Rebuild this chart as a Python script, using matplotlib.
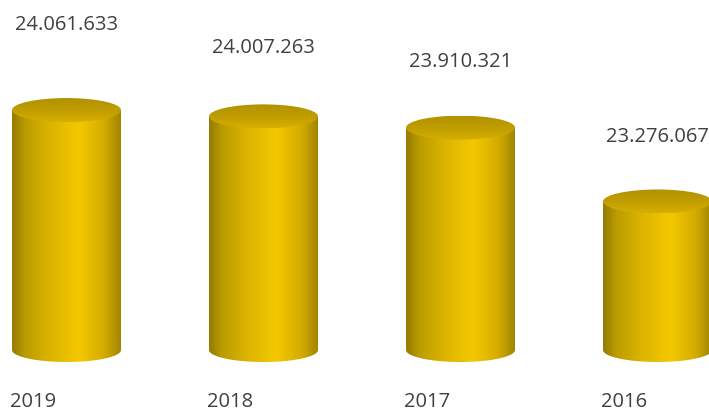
import numpy as np
import matplotlib
matplotlib.use("Agg")
import matplotlib.pyplot as plt
from matplotlib.path import Path
from matplotlib.patches import PathPatch, Ellipse
from matplotlib.colors import LinearSegmentedColormap
from matplotlib.transforms import blended_transform_factory

plt.rcParams['font.family'] = ['Open Sans', 'DejaVu Sans']

years = ['2019', '2018', '2017', '2016']
values = [24061633, 24007263, 23910321, 23276067]
value_labels = ['24.061.633', '24.007.263', '23.910.321', '23.276.067']

base = 22000000
label_offset_px = [85, 68, 66, 64]

fig = plt.figure(figsize=(7.09, 4.11), dpi=100)
ax = fig.add_axes([0, 0, 1, 1])
ax.set_xlim(-0.3376, 3.2614)
ax.set_ylim(21476000, 25007000)
ax.axis('off')

# horizontal shading for the cylinder body, vertical for the lid
body_cmap = LinearSegmentedColormap.from_list('body', [
    (0.0, '#947a00'), (0.12, '#bb9c00'), (0.35, '#dcb400'),
    (0.62, '#f4c800'), (0.85, '#d4ac00'), (1.0, '#a08400')])
lid_cmap = LinearSegmentedColormap.from_list('lid', [
    (0.0, '#b09200'), (0.6, '#c4a000'), (1.0, '#d6b000')])
grad = np.linspace(0, 1, 256).reshape(1, -1)
lid_grad = np.linspace(0, 1, 64).reshape(-1, 1)

rx = 0.2766          # half width in category units
ry = 103000          # half height of the ellipses in value units

for i, v in enumerate(values):
    x = i
    # body: rectangle from base to value, rounded by the lower half ellipse
    t = np.linspace(np.pi, 2 * np.pi, 60)
    bx = x + rx * np.cos(t)
    by = base + ry * np.sin(t)
    verts = list(zip(bx, by)) + [(x + rx, v), (x - rx, v), (bx[0], by[0])]
    codes = [Path.MOVETO] + [Path.LINETO] * (len(verts) - 2) + [Path.CLOSEPOLY]
    clip = PathPatch(Path(verts, codes), facecolor='none', edgecolor='none')
    ax.add_patch(clip)
    im = ax.imshow(grad, cmap=body_cmap, aspect='auto', interpolation='bicubic',
                   extent=[x - rx, x + rx, base - ry, v], zorder=2)
    im.set_clip_path(clip)

    # lid
    lid = Ellipse((x, v), 2 * rx, 2 * ry, facecolor='none', edgecolor='none')
    ax.add_patch(lid)
    im2 = ax.imshow(lid_grad, cmap=lid_cmap, aspect='auto', interpolation='bicubic',
                    extent=[x - rx, x + rx, v - ry, v + ry], zorder=3)
    im2.set_clip_path(lid)

    ax.annotate(value_labels[i], (x, v), xytext=(0, label_offset_px[i] * 0.72),
                textcoords='offset points', ha='center', va='center',
                fontsize=14.5, color='#404040')

trans = blended_transform_factory(ax.transData, ax.transAxes)
for i, yr in enumerate(years):
    ax.text(i - rx - 0.012, 0.022, yr, transform=trans, ha='left', va='center',
            fontsize=14.5, color='#404040')

fig.savefig('out.png', dpi=100, facecolor='white')
